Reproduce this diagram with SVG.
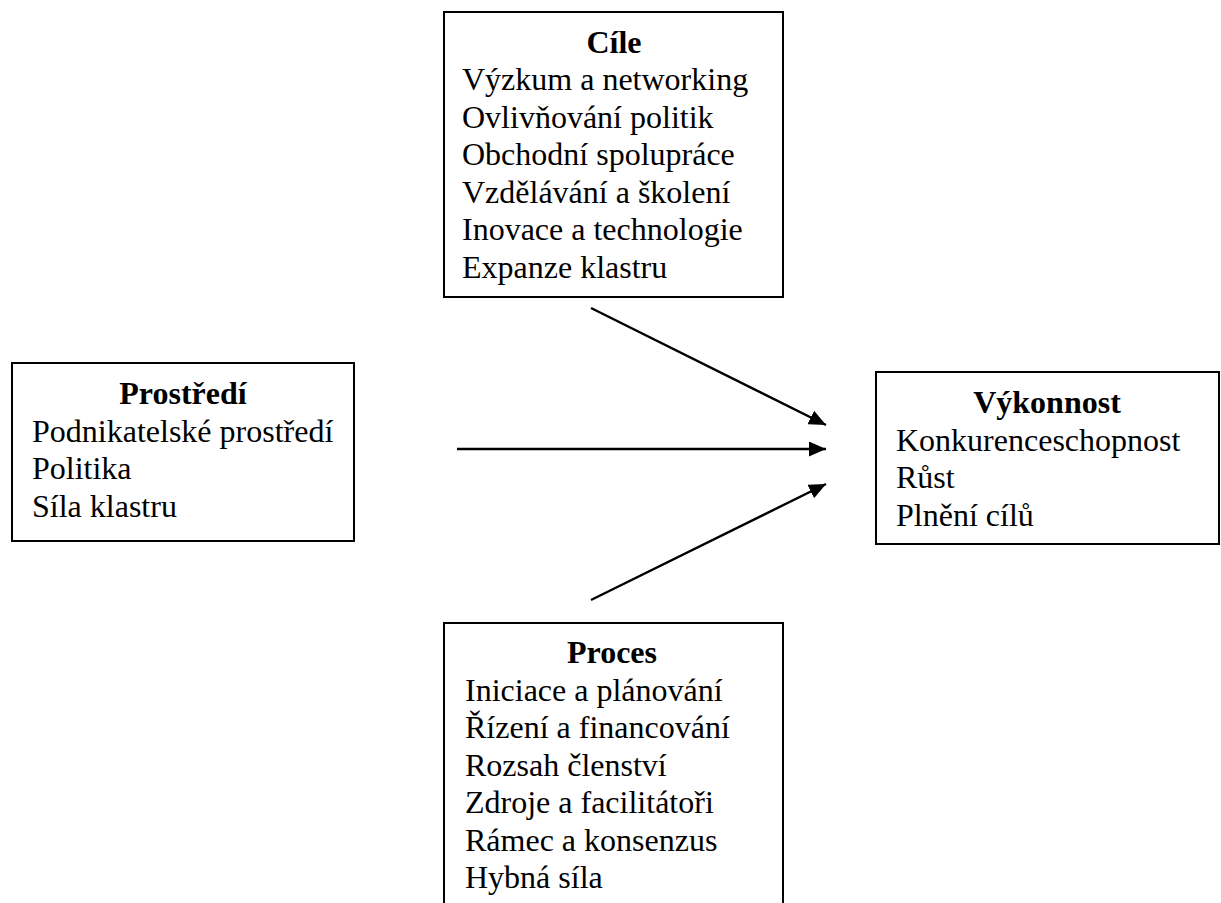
<svg xmlns="http://www.w3.org/2000/svg" width="1221" height="903" viewBox="0 0 1221 903">
<defs>
<style>
.box{fill:#fff;stroke:#000;stroke-width:2}
.t{font-family:"Liberation Serif","Times New Roman",serif;font-size:32px;fill:#000}
.h{font-weight:bold;text-anchor:middle}
.c{stroke:#000;stroke-width:2.4;fill:none;marker-end:url(#ah)}
</style>
<marker id="ah" viewBox="0 0 17 15" refX="17" refY="7.5" markerUnits="userSpaceOnUse" markerWidth="17" markerHeight="15" orient="auto">
<path d="M0,0 L17,7.5 L0,15 z" fill="#000"/>
</marker>
</defs>
<rect width="1221" height="903" fill="#fff"/>
<g id="cile">
<rect class="box" x="444" y="12" width="339" height="285"/>
<text class="t h" x="614" y="53">Cíle</text>
<text class="t" x="462" y="90">Výzkum a networking</text>
<text class="t" x="462" y="127.5">Ovlivňování politik</text>
<text class="t" x="462" y="165">Obchodní spolupráce</text>
<text class="t" x="462" y="202.5">Vzdělávání a školení</text>
<text class="t" x="462" y="240">Inovace a technologie</text>
<text class="t" x="462" y="277.5">Expanze klastru</text>
</g>
<g id="prostredi">
<rect class="box" x="12" y="363" width="342" height="178"/>
<text class="t h" x="183" y="404">Prostředí</text>
<text class="t" x="32" y="441.5">Podnikatelské prostředí</text>
<text class="t" x="32" y="479">Politika</text>
<text class="t" x="32" y="516.5">Síla klastru</text>
</g>
<g id="vykonnost">
<rect class="box" x="876" y="372" width="343" height="172"/>
<text class="t h" x="1047" y="413">Výkonnost</text>
<text class="t" x="896" y="450.5">Konkurenceschopnost</text>
<text class="t" x="896" y="488">Růst</text>
<text class="t" x="896" y="525.5">Plnění cílů</text>
</g>
<g id="proces">
<rect class="box" x="444" y="623" width="339" height="300"/>
<text class="t h" x="612" y="663">Proces</text>
<text class="t" x="465" y="700.5">Iniciace a plánování</text>
<text class="t" x="465" y="738">Řízení a financování</text>
<text class="t" x="465" y="775.5">Rozsah členství</text>
<text class="t" x="465" y="813">Zdroje a facilitátoři</text>
<text class="t" x="465" y="850.5">Rámec a konsenzus</text>
<text class="t" x="465" y="888">Hybná síla</text>
</g>
<g id="connectors">
<line class="c" x1="591" y1="308" x2="826" y2="425"/>
<line class="c" x1="457" y1="449" x2="826" y2="449"/>
<line class="c" x1="591" y1="600" x2="826" y2="484"/>
</g>
</svg>
